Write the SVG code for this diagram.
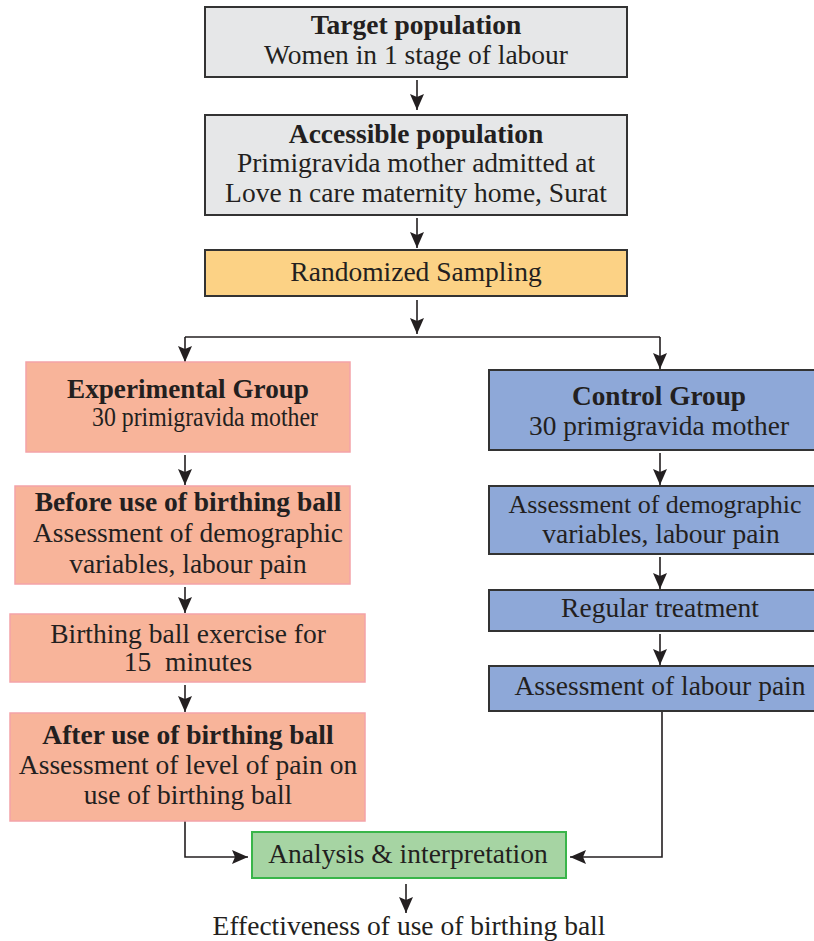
<svg xmlns="http://www.w3.org/2000/svg" width="814" height="941" viewBox="0 0 814 941">
<style>
text{font-family:"Liberation Serif","Times New Roman",serif;fill:#231f20;text-anchor:middle;font-size:27.5px}
.b{font-weight:bold}
.gray{fill:#e6e7e8;stroke:#333;stroke-width:2}
.samp{fill:#fcd285;stroke:#333;stroke-width:2}
.exp{fill:#f8b49a;stroke:#f4a3a8;stroke-width:1.5}
.ctl{fill:#8ea8d8;stroke:#333;stroke-width:2}
.ana{fill:#a6d4a3;stroke:#39b54a;stroke-width:2}
.c{fill:none;stroke:#231f20;stroke-width:1.6}
</style>
<defs>
<marker id="ah2" viewBox="0 0 16 14" refX="16" refY="7" markerWidth="16" markerHeight="14" markerUnits="userSpaceOnUse" orient="auto"><path d="M0,0 L16,7 L0,14 L3,7 z" fill="#231f20"/></marker>
</defs>
<g id="connectors">
<path class="c" d="M417,80 V110" marker-end="url(#ah2)"/>
<path class="c" d="M417,218 V248" marker-end="url(#ah2)"/>
<path class="c" d="M417,300 V334" marker-end="url(#ah2)"/>
<path class="c" d="M185,337 H660"/>
<path class="c" d="M185,337 V362" marker-end="url(#ah2)"/>
<path class="c" d="M660,337 V369" marker-end="url(#ah2)"/>
<path class="c" d="M185,455 V485" marker-end="url(#ah2)"/>
<path class="c" d="M660,453 V485" marker-end="url(#ah2)"/>
<path class="c" d="M185,587 V613" marker-end="url(#ah2)"/>
<path class="c" d="M660,557 V589" marker-end="url(#ah2)"/>
<path class="c" d="M185,685 V712" marker-end="url(#ah2)"/>
<path class="c" d="M660,634 V665" marker-end="url(#ah2)"/>
<path class="c" d="M185,821 V857 H248" marker-end="url(#ah2)"/>
<path class="c" d="M662,711 V857 H570" marker-end="url(#ah2)"/>
<path class="c" d="M406,884 V913" marker-end="url(#ah2)"/>
</g>
<g id="target">
<rect class="gray" x="205" y="7" width="422" height="70"/>
<text class="b" x="416" y="34">Target population</text>
<text x="416" y="64">Women in 1 stage of labour</text>
</g>
<g id="accessible">
<rect class="gray" x="205" y="115" width="422" height="100"/>
<text class="b" x="416" y="143">Accessible population</text>
<text x="416" y="172">Primigravida mother admitted at</text>
<text x="416" y="202">Love n care maternity home, Surat</text>
</g>
<g id="sampling">
<rect class="samp" x="205" y="250" width="422" height="46"/>
<text x="416" y="281">Randomized Sampling</text>
</g>
<g id="experimental">
<rect class="exp" x="26" y="362" width="324" height="90"/>
<text class="b" x="188" y="398" textLength="242" lengthAdjust="spacingAndGlyphs">Experimental Group</text>
<text x="205" y="426" textLength="226" lengthAdjust="spacingAndGlyphs">30 primigravida mother</text>
</g>
<g id="control">
<rect class="ctl" x="489" y="370" width="340" height="80"/>
<text class="b" x="659" y="405" textLength="174" lengthAdjust="spacingAndGlyphs">Control Group</text>
<text x="659" y="435" textLength="260" lengthAdjust="spacingAndGlyphs">30 primigravida mother</text>
</g>
<g id="before">
<rect class="exp" x="15" y="486" width="335" height="98"/>
<text class="b" x="188" y="511">Before use of birthing ball</text>
<text x="188" y="542">Assessment of demographic</text>
<text x="188" y="573">variables, labour pain</text>
</g>
<g id="ctl-assess">
<rect class="ctl" x="489" y="486" width="340" height="68"/>
<text x="655" y="513" style="font-size:26px">Assessment of demographic</text>
<text x="661" y="543">variables, labour pain</text>
</g>
<g id="exercise">
<rect class="exp" x="10" y="614" width="355" height="68"/>
<text x="188" y="643">Birthing ball exercise for</text>
<text x="188" y="671" xml:space="preserve">15  minutes</text>
</g>
<g id="regular">
<rect class="ctl" x="489" y="590" width="340" height="41"/>
<text x="660" y="617">Regular treatment</text>
</g>
<g id="ctl-pain">
<rect class="ctl" x="489" y="666" width="340" height="45"/>
<text x="660" y="695">Assessment of labour pain</text>
</g>
<g id="after">
<rect class="exp" x="10" y="713" width="355" height="108"/>
<text class="b" x="188" y="744">After use of birthing ball</text>
<text x="188" y="774">Assessment of level of pain on</text>
<text x="188" y="804">use of birthing ball</text>
</g>
<g id="analysis">
<rect class="ana" x="252" y="832" width="314" height="46"/>
<text x="408" y="863">Analysis &amp; interpretation</text>
</g>
<g id="effectiveness">
<text x="409" y="935">Effectiveness of use of birthing ball</text>
</g>
</svg>
